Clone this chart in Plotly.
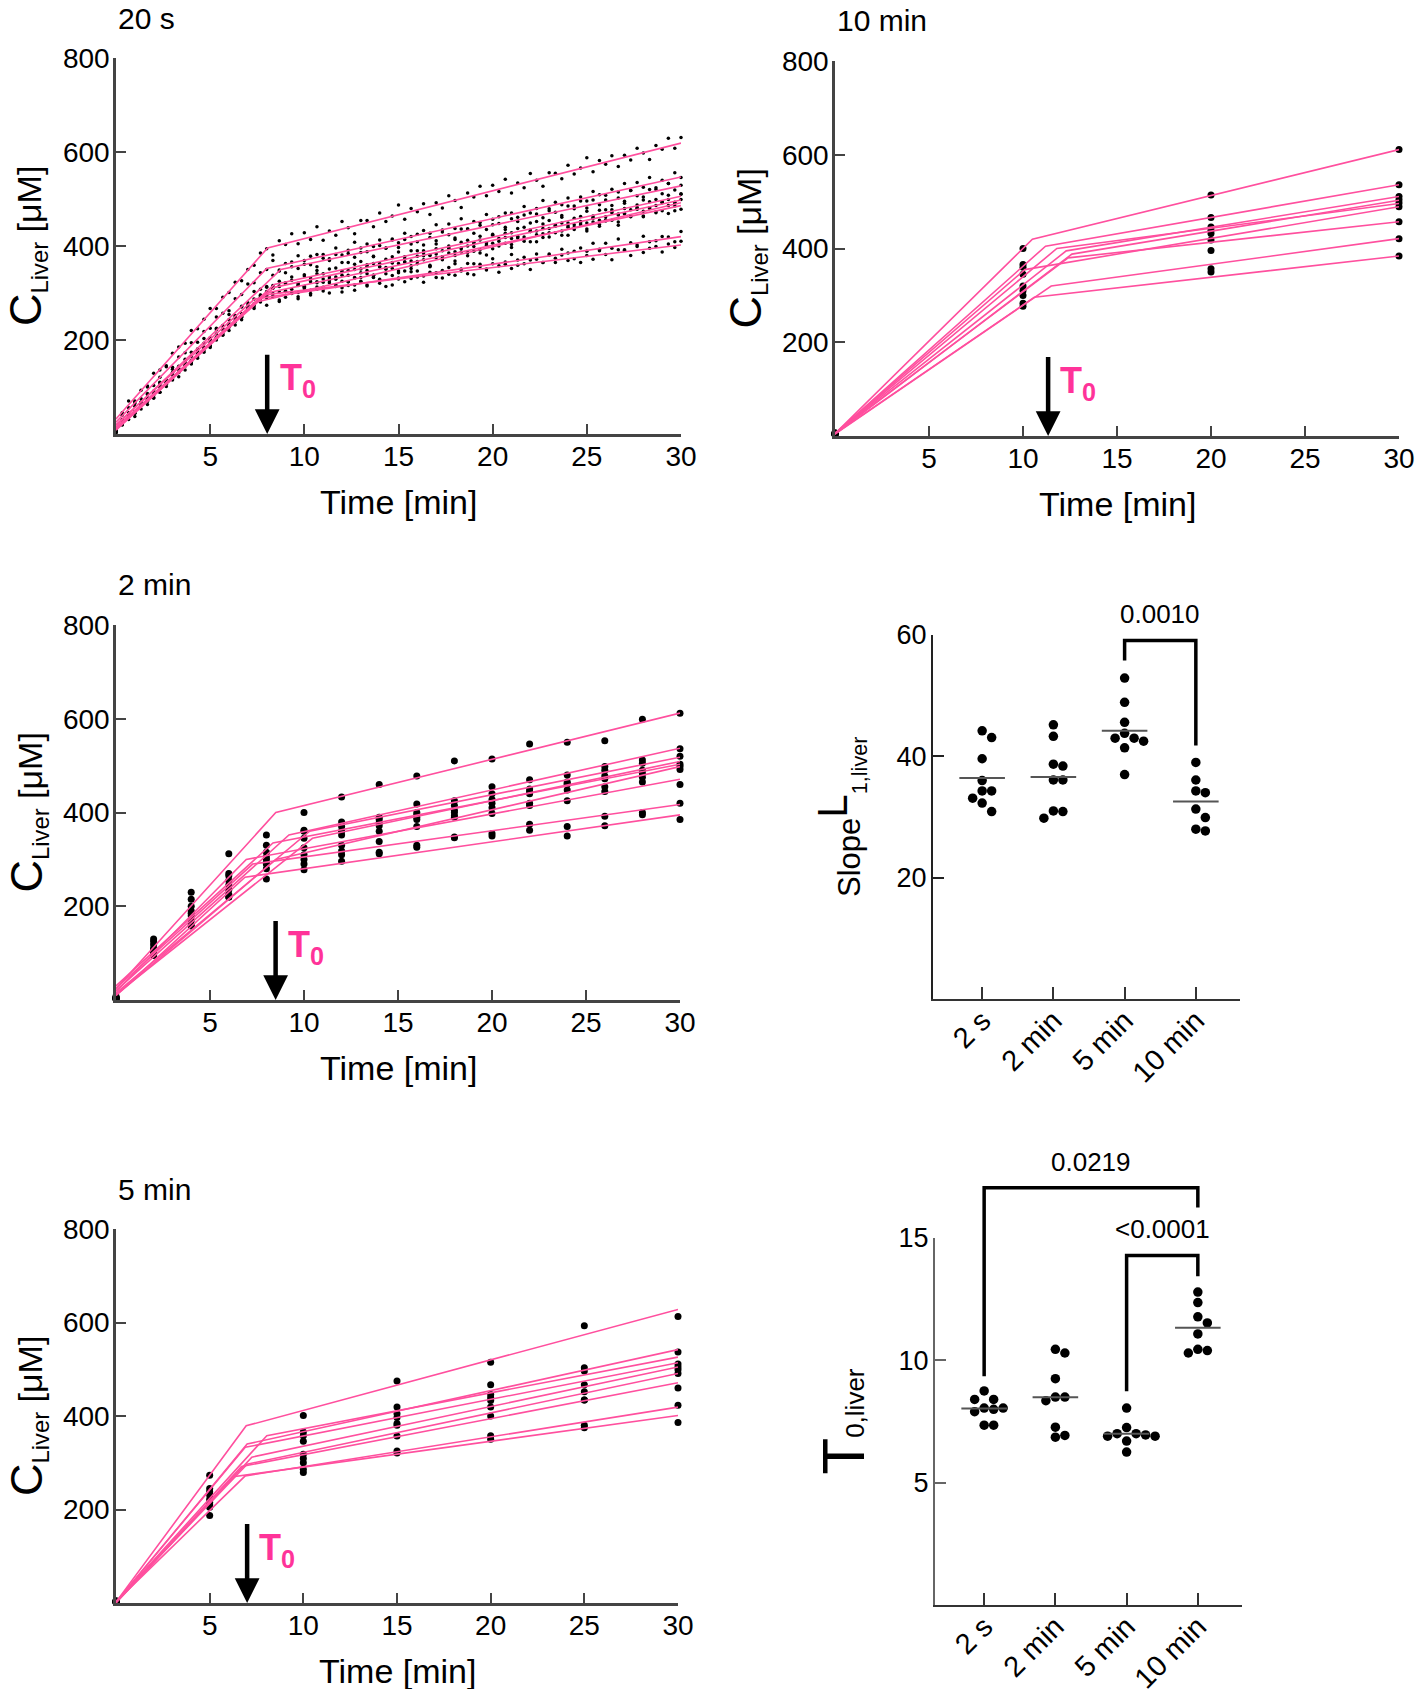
import plotly.graph_objects as go

W, H = 1418, 1689
PINK = "#FF4F9E"
PINK_TEXT = "#FF3399"
FONT = "Liberation Sans, Arial, sans-serif"

# ---------------- data ----------------
TIME_20S = [0, 0.33, 0.67, 1, 1.33, 1.67, 2, 2.33, 2.67, 3, 3.33, 3.67, 4, 4.33, 4.67,
            5, 5.33, 5.67, 6, 6.33, 6.67, 7, 7.33, 7.67, 8, 8.33, 8.67, 9, 9.33, 9.67,
            10, 10.33, 10.67, 11, 11.33, 11.67, 12, 12.33, 12.67, 13, 13.33, 13.67, 14, 14.33, 14.67,
            15, 15.33, 15.67, 16, 16.33, 16.67, 17, 17.33, 17.67, 18, 18.33, 18.67, 19, 19.33, 19.67,
            20, 20.33, 20.67, 21, 21.33, 21.67, 22, 22.33, 22.67, 23, 23.33, 23.67, 24, 24.33, 24.67,
            25, 25.33, 25.67, 26, 26.33, 26.67, 27, 27.33, 27.67, 28, 28.33, 28.67, 29, 29.33, 29.67, 30]

CONC_20S = [
    [6, 45, 70, 70, 93, 102, 129, 136, 145, 172, 185, 193, 220, 224, 244, 267, 267, 291, 301, 323,
     326, 350, 359, 385, 394, 381, 411, 403, 426, 405, 428, 414, 441, 412, 432, 423, 452, 439, 426, 454,
     454, 441, 470, 452, 464, 487, 457, 480, 473, 490, 467, 492, 481, 507, 497, 482, 513, 504, 527, 507,
     529, 516, 542, 513, 534, 524, 554, 540, 527, 556, 555, 543, 572, 553, 566, 588, 558, 582, 574, 592,
     569, 593, 583, 608, 598, 584, 614, 606, 629, 608, 631],
    [4, 31, 56, 68, 75, 100, 103, 121, 143, 142, 164, 173, 194, 195, 218, 225, 249, 257, 262, 288,
     297, 319, 322, 343, 350, 369, 347, 363, 356, 379, 369, 360, 382, 382, 373, 396, 381, 391, 408, 386,
     404, 399, 413, 396, 415, 407, 427, 420, 409, 433, 427, 445, 430, 447, 437, 458, 436, 452, 444, 467,
     457, 448, 470, 470, 461, 484, 470, 480, 497, 475, 493, 488, 502, 485, 504, 496, 516, 509, 498, 521,
     515, 533, 518, 535, 525, 546, 524, 540, 533, 556, 546],
    [8, 40, 37, 59, 67, 86, 87, 109, 115, 138, 144, 149, 174, 181, 203, 205, 225, 231, 254, 251,
     272, 279, 303, 308, 314, 338, 349, 343, 366, 352, 361, 378, 356, 374, 369, 382, 365, 384, 376, 396,
     388, 377, 401, 395, 413, 397, 414, 404, 425, 402, 418, 411, 434, 424, 414, 436, 436, 427, 450, 435,
     445, 462, 440, 458, 452, 466, 449, 468, 460, 479, 472, 461, 485, 479, 496, 481, 498, 488, 508, 486,
     502, 495, 518, 507, 498, 520, 520, 511, 533, 519, 529],
    [3, 20, 42, 48, 53, 77, 84, 105, 106, 126, 131, 154, 151, 171, 177, 201, 205, 210, 235, 245,
     250, 274, 275, 292, 312, 310, 325, 320, 334, 317, 336, 328, 348, 341, 330, 353, 347, 365, 350, 367,
     357, 378, 356, 372, 365, 387, 377, 368, 390, 390, 381, 404, 390, 400, 417, 394, 412, 407, 421, 404,
     423, 415, 435, 428, 417, 440, 434, 452, 437, 454, 444, 465, 443, 459, 452, 474, 464, 455, 477, 477,
     468, 491, 477, 487, 504, 481, 499, 494, 508, 491, 510],
    [7, 19, 39, 44, 66, 63, 83, 89, 113, 117, 122, 146, 156, 161, 185, 186, 203, 223, 220, 241,
     248, 267, 267, 288, 294, 316, 314, 303, 327, 321, 339, 324, 341, 330, 351, 329, 345, 338, 361, 351,
     341, 363, 363, 354, 377, 363, 373, 390, 367, 385, 380, 394, 377, 396, 388, 408, 400, 389, 413, 407,
     425, 410, 427, 416, 437, 415, 431, 424, 447, 437, 428, 449, 449, 440, 463, 449, 459, 476, 453, 471,
     466, 480, 463, 482, 474, 494, 486, 475, 499, 493, 511],
    [2, 27, 31, 37, 61, 71, 76, 100, 101, 119, 139, 136, 157, 164, 183, 184, 205, 211, 233, 239,
     243, 268, 275, 296, 297, 312, 302, 322, 300, 316, 309, 332, 322, 312, 334, 334, 325, 348, 333, 343,
     360, 338, 356, 351, 364, 347, 366, 358, 378, 371, 359, 383, 377, 395, 380, 396, 386, 407, 385, 401,
     394, 416, 406, 397, 419, 419, 409, 432, 418, 428, 445, 423, 440, 435, 449, 432, 451, 442, 462, 455,
     444, 468, 462, 479, 464, 481, 471, 492, 469, 485, 478],
    [5, 28, 45, 65, 62, 84, 91, 110, 110, 131, 137, 159, 165, 169, 193, 201, 222, 223, 243, 248,
     270, 267, 287, 281, 303, 292, 282, 303, 302, 292, 314, 299, 308, 323, 300, 317, 311, 324, 306, 324,
     315, 334, 326, 314, 337, 330, 347, 331, 347, 336, 356, 333, 348, 340, 362, 351, 341, 362, 361, 351,
     373, 358, 366, 382, 359, 376, 370, 383, 365, 383, 374, 393, 385, 373, 396, 389, 406, 390, 406, 395,
     415, 392, 407, 399, 421, 409, 399, 420, 419, 409, 431],
    [9, 20, 41, 47, 68, 74, 78, 102, 109, 130, 131, 150, 155, 177, 174, 194, 200, 224, 227, 232,
     256, 266, 271, 295, 290, 299, 315, 291, 308, 301, 314, 296, 313, 304, 322, 314, 302, 324, 317, 333,
     317, 333, 321, 341, 317, 332, 324, 345, 334, 323, 344, 343, 332, 354, 338, 347, 363, 339, 356, 349,
     362, 344, 361, 352, 370, 362, 350, 372, 365, 381, 365, 381, 369, 389, 365, 380, 372, 393, 382, 371,
     392, 391, 380, 402, 386, 395, 411, 387, 404, 397, 410],
    [4, 21, 42, 44, 64, 69, 91, 89, 109, 115, 139, 144, 149, 173, 183, 189, 213, 214, 231, 252,
     249, 270, 277, 291, 274, 293, 285, 305, 299, 288, 312, 306, 324, 309, 326, 316, 338, 316, 332, 325,
     348, 338, 329, 351, 352, 343, 366, 352, 362, 379, 357, 375, 371, 385, 368, 387, 379, 399, 392, 381,
     406, 400, 418, 403, 420, 410, 431, 409, 426, 419, 442, 432, 423, 445, 445, 436, 460, 446, 456, 473,
     451, 469, 464, 478, 462, 481, 473, 493, 486, 475, 499],
]
FIT_20S_C0 = [32, 25, 18, 12, 10, 8, 20, 15, 10]
FIT_20S_T0 = [8.05, 8.0, 8.75, 8.4, 8.4, 8.0, 7.35, 7.9, 7.35]
FIT_20S_CT0 = [396, 352, 350, 318, 312, 300, 287, 296, 280]
FIT_20S_C30 = [619, 547, 528, 506, 498, 486, 420, 402, 492]

TIME_2MIN = [0, 2, 4, 6, 8, 10, 12, 14, 16, 18, 20, 22, 24, 26, 28, 30]
CONC_2MIN = [
    [5, 125, 230, 312, 352, 400, 433, 460, 478, 510, 514, 546, 550, 553, 599, 612],
    [3, 98, 170, 245, 315, 362, 380, 390, 418, 425, 455, 470, 480, 498, 512, 536],
    [6, 105, 185, 225, 290, 345, 370, 385, 400, 415, 440, 450, 465, 490, 505, 520],
    [2, 110, 160, 220, 280, 325, 352, 378, 395, 405, 428, 445, 460, 472, 490, 503],
    [8, 130, 215, 265, 330, 360, 360, 372, 390, 400, 420, 440, 462, 478, 483, 498],
    [4, 100, 200, 235, 300, 310, 330, 360, 385, 390, 410, 420, 448, 455, 475, 492],
    [5, 118, 190, 270, 292, 300, 318, 338, 370, 393, 398, 415, 425, 445, 465, 460],
    [3, 108, 180, 255, 305, 290, 310, 315, 330, 348, 355, 375, 370, 392, 400, 420],
    [2, 95, 158, 220, 258, 278, 296, 312, 326, 346, 350, 362, 350, 372, 395, 385],
]
FIT_2MIN_C0 = [24, 20, 15, 12, 30, 10, 18, 25, 10]
FIT_2MIN_T0 = [8.5, 9.2, 10.3, 10.45, 8.35, 8.5, 6.93, 7.27, 6.86]
FIT_2MIN_CT0 = [400, 352, 360, 345, 335, 300, 300, 290, 262]
FIT_2MIN_C30 = [612, 537, 518, 509, 503, 498, 471, 417, 395]

TIME_5MIN = [0, 5, 10, 15, 20, 25, 30]
CONC_5MIN = [
    [3, 273, 401, 475, 515, 593, 613],
    [2, 245, 366, 419, 467, 503, 537],
    [4, 231, 358, 405, 446, 496, 511],
    [1, 238, 346, 397, 439, 467, 505],
    [3, 222, 318, 384, 433, 452, 499],
    [2, 215, 309, 380, 419, 434, 491],
    [5, 210, 300, 357, 400, 434, 460],
    [2, 205, 286, 325, 358, 380, 423],
    [4, 187, 279, 321, 350, 375, 386],
]
FIT_5MIN_C0 = [2, 1, 3, 2, 0, 2, 1, 3, 2]
FIT_5MIN_T0 = [6.95, 7.0, 8.05, 6.9, 7.25, 7.0, 6.7, 6.9, 6.25]
FIT_5MIN_CT0 = [379, 340, 358, 333, 312, 297, 292, 272, 270]
FIT_5MIN_C30 = [628, 542, 526, 514, 505, 491, 471, 419, 401]

TIME_10MIN = [0, 10, 20, 30]
CONC_10MIN = [
    [6, 400, 514, 611],
    [4, 366, 466, 536],
    [5, 320, 446, 511],
    [3, 310, 439, 504],
    [7, 345, 432, 497],
    [5, 360, 418, 489],
    [4, 300, 396, 457],
    [6, 283, 357, 421],
    [3, 277, 350, 384],
]
FIT_10MIN_C0 = [5, 5, 6, 4, 5, 5, 6, 4, 5]
FIT_10MIN_T0 = [10.5, 11.2, 12.3, 12.6, 11.8, 10.1, 12.4, 11.5, 10.6]
FIT_10MIN_CT0 = [420, 405, 395, 388, 400, 355, 380, 320, 296]
FIT_10MIN_C30 = [611, 536, 511, 503, 496, 489, 457, 421, 384]

GROUPS = ["2 s", "2 min", "5 min", "10 min"]
SLOPE_2S = [44.2, 43.1, 39.6, 36.0, 34.3, 34.3, 33.1, 32.3, 30.9]
SLOPE_2MIN = [45.2, 43.3, 38.7, 38.4, 36.1, 36.1, 31.0, 30.9, 29.8]
SLOPE_5MIN = [52.9, 48.9, 45.6, 43.8, 43.0, 43.0, 42.5, 41.4, 37.0]
SLOPE_10MIN = [39.0, 36.1, 34.3, 34.0, 31.3, 29.9, 28.0, 27.7]
T0_2S = [8.75, 8.4, 8.4, 8.05, 8.05, 8.0, 7.9, 7.35, 7.35]
T0_2MIN = [10.45, 10.3, 9.25, 8.5, 8.5, 8.35, 7.27, 6.93, 6.86]
T0_5MIN = [8.05, 7.25, 7.0, 7.0, 6.95, 6.9, 6.9, 6.7, 6.25]
T0_10MIN = [12.79, 12.36, 11.78, 11.53, 11.08, 10.45, 10.4, 10.3]

# comparisons: (group a, group b, p-value label, bracket top, left leg end, right leg end, label y)
SLOPE_TESTS = [(2, 3, "0.0010", 59.1, 55.8, 41.8, 63.4)]
T0_TESTS = [(0, 3, "0.0219", 17.05, 9.35, 16.25, 18.1),
            (2, 3, "<0.0001", 14.28, 8.74, 13.44, 15.35)]

# ---------------- layout geometry (pixels of the 1418x1689 page) ----------------
GEOM = {
    "A": (116, 681, 58, 434),
    "B": (835, 1399, 61, 436),
    "C": (116, 680, 625, 1000),
    "E": (116, 678, 1229, 1603),
    "D": (933, 1240, 635, 999),
    "F": (935, 1242, 1238, 1605),
}
CAT_RANGE = [-0.69, 3.62]


def xdom(k):
    x0, x1, _, _ = GEOM[k]
    return [x0 / W, x1 / W]


def ydom(k):
    _, _, y0, y1 = GEOM[k]
    return [1 - y1 / H, 1 - y0 / H]


def px2paper(px, py):
    return px / W, 1 - py / H


def data2paper(k, xr, yr, xv, yv):
    x0, x1, y0, y1 = GEOM[k]
    px = x0 + (xv - xr[0]) / (xr[1] - xr[0]) * (x1 - x0)
    py = y1 - (yv - yr[0]) / (yr[1] - yr[0]) * (y1 - y0)
    return px2paper(px, py)


def mean(v):
    return sum(v) / len(v)


fig = go.Figure()
annotations = []
shapes = []

line_panels = [
    ("A", "x", "y", TIME_20S, CONC_20S, FIT_20S_C0, FIT_20S_T0, FIT_20S_CT0, FIT_20S_C30, 3.5, T0_2S, "20 s"),
    ("B", "x2", "y2", TIME_10MIN, CONC_10MIN, FIT_10MIN_C0, FIT_10MIN_T0, FIT_10MIN_CT0, FIT_10MIN_C30, 7, T0_10MIN, "10 min"),
    ("C", "x3", "y3", TIME_2MIN, CONC_2MIN, FIT_2MIN_C0, FIT_2MIN_T0, FIT_2MIN_CT0, FIT_2MIN_C30, 7, T0_2MIN, "2 min"),
    ("E", "x4", "y4", TIME_5MIN, CONC_5MIN, FIT_5MIN_C0, FIT_5MIN_T0, FIT_5MIN_CT0, FIT_5MIN_C30, 7, T0_5MIN, "5 min"),
]

axis_line = "#444444"
layout_axes = {}

for (k, xa, ya, times, conc, c0s, t0s, ct0s, c30s, msize, t0grp, title) in line_panels:
    xs, ys = [], []
    for row in conc:
        for t, v in zip(times, row):
            xs.append(t)
            ys.append(v)
    fig.add_trace(go.Scatter(x=xs, y=ys, mode="markers", xaxis=xa, yaxis=ya,
                             marker=dict(size=msize, color="black"), cliponaxis=False,
                             showlegend=False, hoverinfo="skip"))
    for c0, t0, ct0, c30 in zip(c0s, t0s, ct0s, c30s):
        fig.add_trace(go.Scatter(x=[0, t0, 30], y=[c0, ct0, c30], mode="lines", xaxis=xa, yaxis=ya,
                                 line=dict(color=PINK, width=1.6), showlegend=False, hoverinfo="skip"))
    xname = "xaxis" + xa[1:]
    yname = "yaxis" + ya[1:]
    layout_axes[xname] = dict(domain=xdom(k), anchor=ya, range=[0, 30], tickvals=[5, 10, 15, 20, 25, 30],
                              ticks="inside", ticklen=10, tickwidth=2, tickcolor=axis_line,
                              showline=True, linecolor=axis_line, linewidth=2.5,
                              showgrid=False, zeroline=False, ticklabelstandoff=-4,
                              tickfont=dict(size=28, family=FONT, color="black"))
    layout_axes[yname] = dict(domain=ydom(k), anchor=xa, range=[0, 800], tickvals=[200, 400, 600, 800],
                              ticks="inside", ticklen=10, tickwidth=2, tickcolor=axis_line,
                              showline=True, linecolor=axis_line, linewidth=2.5,
                              showgrid=False, zeroline=False, ticklabelstandoff=-2,
                              tickfont=dict(size=28, family=FONT, color="black"))
    # T0 arrow at the group mean
    t0m = mean(t0grp)
    annotations.append(dict(x=t0m, y=0, xref=xa, yref=ya, ax=t0m, ay=172, axref=xa, ayref=ya,
                            showarrow=True, arrowhead=2, arrowsize=1.1, arrowwidth=4.5,
                            arrowcolor="black", text=""))
    annotations.append(dict(x=t0m + 0.55, y=114, xref=xa, yref=ya, showarrow=False,
                            xanchor="left", yanchor="middle",
                            text="<b>T<sub>0</sub></b>",
                            font=dict(size=36, family=FONT, color=PINK_TEXT)))
    x0, x1, y0, y1 = GEOM[k]
    tx, ty = px2paper(x0, y0 - 40)
    annotations.append(dict(x=tx, y=ty, xref="paper", yref="paper", showarrow=False,
                            xanchor="left", yanchor="middle", text=title,
                            font=dict(size=30, family=FONT, color="black")))
    tx, ty = px2paper((x0 + x1) / 2, y1 + 68)
    annotations.append(dict(x=tx, y=ty, xref="paper", yref="paper", showarrow=False,
                            xanchor="center", yanchor="middle", text="Time [min]",
                            font=dict(size=34, family=FONT, color="black")))
    tx, ty = px2paper(x0 - 89, (y0 + y1) / 2)
    annotations.append(dict(x=tx, y=ty, xref="paper", yref="paper", showarrow=False,
                            xanchor="center", yanchor="middle", textangle=-90,
                            text="<span style='font-size:45px'>C</span><sub>Liver</sub> [μM]",
                            font=dict(size=34, family=FONT, color="black")))


def swarm_offsets(vals, px_per_x, px_per_y, diam):
    order = sorted(range(len(vals)), key=lambda i: -vals[i])
    placed = []
    offs = [0.0] * len(vals)
    cands = [0.0]
    for s in range(1, 8):
        cands += [s * diam, -s * diam]
    for i in order:
        yp = vals[i] * px_per_y
        for c in cands:
            if all((c - p) ** 2 + (yp - q) ** 2 >= diam ** 2 * 0.98 for p, q in placed):
                break
        placed.append((c, yp))
        offs[i] = c / px_per_x
    return offs


dot_panels = [
    ("D", "x5", "y5", [SLOPE_2S, SLOPE_2MIN, SLOPE_5MIN, SLOPE_10MIN], [0, 60], [20, 40, 60], SLOPE_TESTS,
     "Slope<sup><span style='font-size:42px'>L</span></sup><sub>1,liver</sub>", 31, "#222222"),
    ("F", "x6", "y6", [T0_2S, T0_2MIN, T0_5MIN, T0_10MIN], [0, 15], [5, 10, 15], T0_TESTS,
     "<span style='font-size:60px'>T</span><span style='font-size:26px'>0,liver</span>", 34, "#666666"),
]

for (k, xa, ya, groups, yr, yt, tests, ytitle, ytsize, ycol) in dot_panels:
    x0, x1, y0, y1 = GEOM[k]
    ppx = (x1 - x0) / (CAT_RANGE[1] - CAT_RANGE[0])
    ppy = (y1 - y0) / (yr[1] - yr[0])
    for gi, vals in enumerate(groups):
        offs = swarm_offsets(vals, ppx, ppy, 9.5)
        fig.add_trace(go.Scatter(x=[gi + o for o in offs], y=vals, mode="markers", xaxis=xa, yaxis=ya,
                                 marker=dict(size=9.5, color="black"), cliponaxis=False,
                                 showlegend=False, hoverinfo="skip"))
        m = mean(vals)
        fig.add_trace(go.Scatter(x=[gi - 0.32, gi + 0.32], y=[m, m], mode="lines", xaxis=xa, yaxis=ya,
                                 line=dict(color="#555555", width=2), showlegend=False, hoverinfo="skip"))
    layout_axes["xaxis" + xa[1:]] = dict(domain=xdom(k), anchor=ya, range=CAT_RANGE,
                                         tickvals=[0, 1, 2, 3], ticktext=GROUPS, tickangle=-45,
                                         ticks="inside", ticklen=12, tickwidth=2, tickcolor="#333333",
                                         showline=True, linecolor="#333333", linewidth=2.2,
                                         showgrid=False, zeroline=False, ticklabelstandoff=-9,
                                         tickfont=dict(size=29, family=FONT, color="black"))
    layout_axes["yaxis" + ya[1:]] = dict(domain=ydom(k), anchor=xa, range=yr, tickvals=yt,
                                         ticks="inside", ticklen=11, tickwidth=2, tickcolor=ycol,
                                         showline=True, linecolor=ycol, linewidth=2.2,
                                         showgrid=False, zeroline=False, ticklabelstandoff=-1,
                                         tickfont=dict(size=27, family=FONT, color="black"))
    for (a, b, lab, ytop, yl, yrr, ytx) in tests:
        ax_, ayl = data2paper(k, CAT_RANGE, yr, a, yl)
        _, ayt = data2paper(k, CAT_RANGE, yr, a, ytop)
        bx_, ayr = data2paper(k, CAT_RANGE, yr, b, yrr)
        shapes.append(dict(type="path", xref="paper", yref="paper",
                           path=f"M{ax_},{ayl} L{ax_},{ayt} L{bx_},{ayt} L{bx_},{ayr}",
                           line=dict(color="black", width=3.5)))
        tx, ty = data2paper(k, CAT_RANGE, yr, (a + b) / 2, ytx)
        annotations.append(dict(x=tx, y=ty, xref="paper", yref="paper", showarrow=False,
                                xanchor="center", yanchor="middle", text=lab,
                                font=dict(size=26, family=FONT, color="black")))
    tx, ty = px2paper(x0 - 92, (y0 + y1) / 2)
    annotations.append(dict(x=tx, y=ty, xref="paper", yref="paper", showarrow=False,
                            xanchor="center", yanchor="middle", textangle=-90, text=ytitle,
                            font=dict(size=ytsize, family=FONT, color="black")))

# the figure fills the browser viewport (all geometry is in paper fractions)
fig.update_layout(autosize=True,
                  margin=dict(l=0, r=0, t=0, b=0, autoexpand=False),
                  paper_bgcolor="white", plot_bgcolor="white",
                  showlegend=False, annotations=annotations, shapes=shapes,
                  font=dict(family=FONT, color="black"),
                  **layout_axes)

fig.write_html("out.html",
               default_width="100vw", default_height="100vh",
               config={"displayModeBar": False, "responsive": True},
               post_script="document.body.style.margin='0px';document.body.style.padding='0px';"
                           "document.body.style.overflow='hidden';"
                           "window.dispatchEvent(new Event('resize'));")
